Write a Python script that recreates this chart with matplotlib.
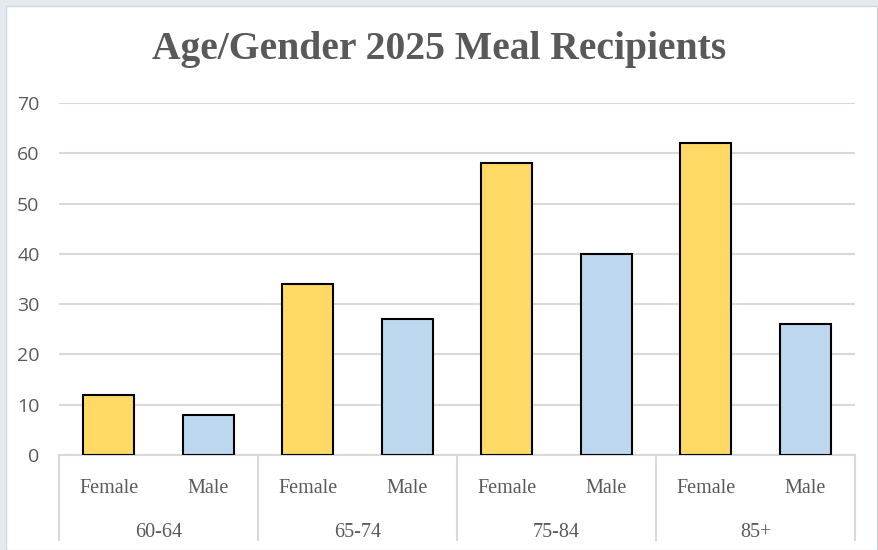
import matplotlib.pyplot as plt
from matplotlib.patches import Rectangle
import numpy as np

# data
age_groups = ['60-64', '65-74', '75-84', '85+']
genders = ['Female', 'Male']
female = [12, 34, 58, 62]
male = [8, 27, 40, 26]
yticks = [0, 10, 20, 30, 40, 50, 60, 70]

fem_color = '#FFD966'
male_color = '#BDD7EE'
grid_color = '#D9D9D9'
text_color = '#595959'

fig = plt.figure(figsize=(8.79, 5.5), dpi=100)
fig.patch.set_facecolor('#E4EAEE')
# white chart area with a thin frame
fig.add_artist(Rectangle((6 / 879, 0), 871 / 879, 544 / 550, transform=fig.transFigure,
                         facecolor='white', edgecolor='#D0D7DC', linewidth=1, zorder=-10))

ax = fig.add_axes([59 / 879, 1 - 455 / 550, (855 - 59) / 879, (455 - 103) / 550])
ax.set_facecolor('none')

# one slot per (age, gender)
values = []
colors = []
for f, m in zip(female, male):
    values += [f, m]
    colors += [fem_color, male_color]
x = np.arange(len(values))

ax.bar(x, values, width=0.51, color=colors, edgecolor='black', linewidth=1.5, zorder=3)

ax.set_xlim(-0.5, len(values) - 0.5)
ax.set_ylim(0, 70)
ax.set_yticks(yticks)
ax.yaxis.grid(True, color=grid_color, linewidth=1.5, zorder=0)
ax.set_axisbelow(True)
for s in ['top', 'right', 'left']:
    ax.spines[s].set_visible(False)
ax.spines['bottom'].set_color(grid_color)
ax.spines['bottom'].set_linewidth(1.5)
ax.tick_params(axis='y', length=0, pad=14, labelsize=14, labelcolor=text_color)
for lbl in ax.get_yticklabels():
    lbl.set_fontfamily('Open Sans')
ax.set_xticks([])

# two-level category axis
trans = ax.get_xaxis_transform()
for i in range(len(age_groups) + 1):
    xs = i * 2 - 0.5
    ax.plot([xs, xs], [0, -0.241], transform=trans, color=grid_color,
            linewidth=1.5, clip_on=False)
for i, g in enumerate(age_groups):
    for j, gen in enumerate(genders):
        ax.text(i * 2 + j, -0.094, gen, transform=trans, ha='center', va='center',
                fontsize=14.5, family='Liberation Serif', color=text_color)
    ax.text(i * 2 + 0.5, -0.22, g, transform=trans, ha='center', va='center',
            fontsize=14.5, family='Liberation Serif', color=text_color)

fig.text(0.5, 1 - 49 / 550, 'Age/Gender 2025 Meal Recipients', ha='center', va='center',
         fontsize=28.5, fontweight='bold', family='Liberation Serif', color=text_color)

fig.savefig('out.png', dpi=100)
